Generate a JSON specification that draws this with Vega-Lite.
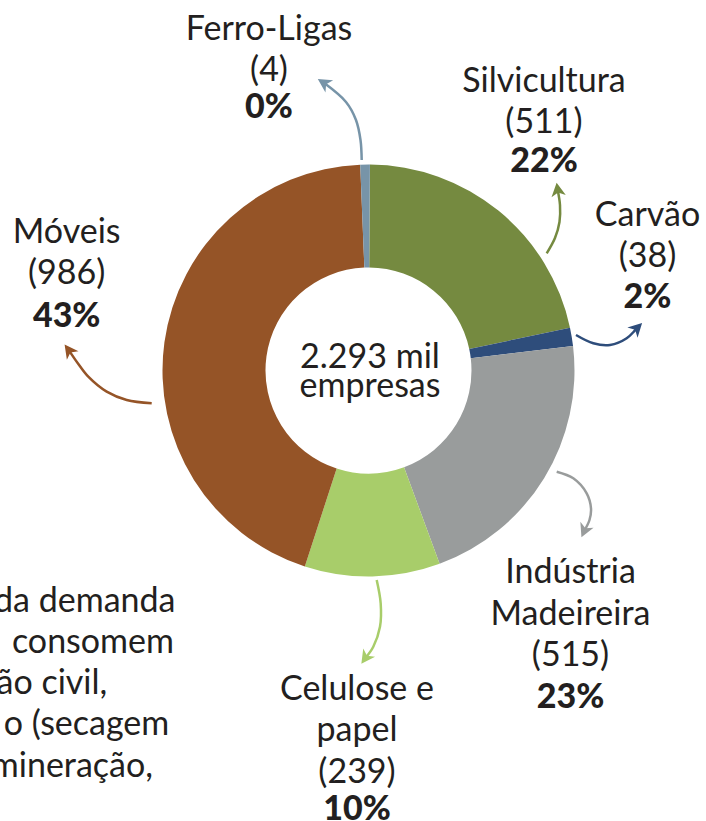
{
  "$schema": "https://vega.github.io/schema/vega-lite/v6.json",
  "autosize": {"type": "none"},
  "width": 706,
  "height": 821,
  "padding": 0,
  "background": "white",
  "config": {"view": {"stroke": null}},
  "datasets": {
    "setores": [
      {"ordem": 1, "setor": "Silvicultura", "empresas": 511, "pct": "22%", "graus": 77.6, "rotulo": "Silvicultura\n(511)", "lx": 85.19, "ly": 135.34, "py": 96.51},
      {"ordem": 2, "setor": "Carvão", "empresas": 38, "pct": "2%", "graus": 5.2, "rotulo": "Carvão\n(38)", "lx": 135.44, "ly": 70.15, "py": 30.34},
      {"ordem": 3, "setor": "Indústria Madeireira", "empresas": 515, "pct": "23%", "graus": 76.6, "rotulo": "Indústria\nMadeireira\n(515)", "lx": 98.06, "ly": -103.3, "py": -163.98},
      {"ordem": 4, "setor": "Celulose e papel", "empresas": 239, "pct": "10%", "graus": 38.2, "rotulo": "Celulose e\npapel\n(239)", "lx": -5.58, "ly": -159.95, "py": -218.2},
      {"ordem": 5, "setor": "Móveis", "empresas": 986, "pct": "43%", "graus": 159.7, "rotulo": "Móveis\n(986)", "lx": -146.5, "ly": 62.04, "py": 21.26},
      {"ordem": 6, "setor": "Ferro-Ligas", "empresas": 4, "pct": "0%", "graus": 2.7, "rotulo": "Ferro-Ligas\n(4)", "lx": -48.3, "ly": 160.44, "py": 122.33}
    ],
    "setas": [
      {"setor": "Ferro-Ligas", "i": 1, "u": -3.3, "v": 102.19},
      {"setor": "Ferro-Ligas", "i": 2, "u": -3.88, "v": 111.89},
      {"setor": "Ferro-Ligas", "i": 3, "u": -6.07, "v": 121.6},
      {"setor": "Ferro-Ligas", "i": 4, "u": -10.92, "v": 130.34},
      {"setor": "Ferro-Ligas", "i": 5, "u": -21.5, "v": 139.52},
      {"setor": "Silvicultura", "i": 1, "u": 86.51, "v": 56.89},
      {"setor": "Silvicultura", "i": 2, "u": 90.53, "v": 64.32},
      {"setor": "Silvicultura", "i": 3, "u": 92.72, "v": 72.09},
      {"setor": "Silvicultura", "i": 4, "u": 92.96, "v": 80.34},
      {"setor": "Silvicultura", "i": 5, "u": 91.87, "v": 87.52},
      {"setor": "Carvão", "i": 1, "u": 100.73, "v": 17.23},
      {"setor": "Carvão", "i": 2, "u": 109.13, "v": 13.2},
      {"setor": "Carvão", "i": 3, "u": 117.23, "v": 12.38},
      {"setor": "Carvão", "i": 4, "u": 125.34, "v": 15.63},
      {"setor": "Carvão", "i": 5, "u": 130.22, "v": 20.51},
      {"setor": "Indústria Madeireira", "i": 1, "u": 91.36, "v": -49.13},
      {"setor": "Indústria Madeireira", "i": 2, "u": 99.42, "v": -52.33},
      {"setor": "Indústria Madeireira", "i": 3, "u": 105.92, "v": -59.61},
      {"setor": "Indústria Madeireira", "i": 4, "u": 108.01, "v": -66.89},
      {"setor": "Indústria Madeireira", "i": 5, "u": 107.28, "v": -72.57},
      {"setor": "Indústria Madeireira", "i": 6, "u": 104.86, "v": -77.57},
      {"setor": "Celulose e papel", "i": 1, "u": 3.98, "v": -101.7},
      {"setor": "Celulose e papel", "i": 2, "u": 5.92, "v": -113.01},
      {"setor": "Celulose e papel", "i": 3, "u": 5.58, "v": -124.37},
      {"setor": "Celulose e papel", "i": 4, "u": 2.33, "v": -134.08},
      {"setor": "Celulose e papel", "i": 5, "u": -1.36, "v": -139.37},
      {"setor": "Móveis", "i": 1, "u": -105.24, "v": -15.92},
      {"setor": "Móveis", "i": 2, "u": -117.38, "v": -14.32},
      {"setor": "Móveis", "i": 3, "u": -127.09, "v": -10.29},
      {"setor": "Móveis", "i": 4, "u": -136.02, "v": -3.01},
      {"setor": "Móveis", "i": 5, "u": -141.02, "v": 3.4},
      {"setor": "Móveis", "i": 6, "u": -145.34, "v": 9.66}
    ],
    "pontas": [
      {"setor": "Ferro-Ligas", "u": -21.5, "v": 139.52, "ang": 302.4},
      {"setor": "Silvicultura", "u": 91.87, "v": 87.52, "ang": 351.4},
      {"setor": "Carvão", "u": 130.22, "v": 20.51, "ang": 45},
      {"setor": "Indústria Madeireira", "u": 104.86, "v": -77.57, "ang": 203.8},
      {"setor": "Celulose e papel", "u": -1.36, "v": -139.37, "ang": 214.9},
      {"setor": "Móveis", "u": -145.34, "v": 9.66, "ang": 323.7}
    ],
    "nota": [
      {"t": "da demanda", "u": -93.69, "v": -117.09},
      {"t": "consomem", "u": -94.42, "v": -137.28},
      {"t": "ão civil,", "u": -126.8, "v": -157.04},
      {"t": "o (secagem", "u": -96.7, "v": -176.94},
      {"t": "mineração,", "u": -104.61, "v": -197.19}
    ]
  },
  "layer": [
    {
      "data": {"name": "setores"},
      "mark": {"type": "arc", "outerRadius": 206, "innerRadius": 103, "stroke": null},
      "encoding": {
        "x": {"datum": 0, "type": "quantitative", "scale": {"domain": [-178.88, 163.84], "nice": false, "zero": false}, "axis": null},
        "y": {"datum": 0, "type": "quantitative", "scale": {"domain": [-218.69, 179.85], "nice": false, "zero": false}, "axis": null},
        "theta": {"field": "graus", "type": "quantitative", "stack": true, "scale": {"range": [0.006981, 6.290167]}},
        "order": {"field": "ordem", "type": "quantitative"},
        "color": {
          "field": "setor", "type": "nominal", "legend": null,
          "scale": {
            "domain": ["Silvicultura", "Carvão", "Indústria Madeireira", "Celulose e papel", "Móveis", "Ferro-Ligas"],
            "range": ["#758A40", "#2E4D7B", "#999C9C", "#A8CD6A", "#955427", "#7794A8"]
          }
        }
      }
    },
    {
      "data": {"name": "setas"},
      "mark": {"type": "line", "interpolate": "catmull-rom", "strokeWidth": 2.5},
      "encoding": {
        "x": {"field": "u", "type": "quantitative", "scale": {"domain": [-178.88, 163.84], "nice": false, "zero": false}, "axis": null},
        "y": {"field": "v", "type": "quantitative", "scale": {"domain": [-218.69, 179.85], "nice": false, "zero": false}, "axis": null},
        "order": {"field": "i", "type": "quantitative"},
        "color": {"field": "setor", "type": "nominal", "legend": null}
      }
    },
    {
      "data": {"name": "pontas"},
      "mark": {"type": "point", "shape": "M0,-1L0.95,0.8L0,0.3L-0.95,0.8Z", "filled": true, "size": 230, "opacity": 1, "strokeWidth": 0},
      "encoding": {
        "x": {"field": "u", "type": "quantitative", "scale": {"domain": [-178.88, 163.84], "nice": false, "zero": false}, "axis": null},
        "y": {"field": "v", "type": "quantitative", "scale": {"domain": [-218.69, 179.85], "nice": false, "zero": false}, "axis": null},
        "angle": {"field": "ang", "type": "quantitative", "scale": null},
        "color": {"field": "setor", "type": "nominal", "legend": null}
      }
    },
    {
      "data": {"name": "setores"},
      "mark": {"type": "text", "font": "Lato", "fontSize": 34, "align": "center", "baseline": "alphabetic", "lineBreak": "\n", "lineHeight": 41.5, "color": "#231F20"},
      "encoding": {
        "x": {"field": "lx", "type": "quantitative", "scale": {"domain": [-178.88, 163.84], "nice": false, "zero": false}, "axis": null},
        "y": {"field": "ly", "type": "quantitative", "scale": {"domain": [-218.69, 179.85], "nice": false, "zero": false}, "axis": null},
        "text": {"field": "rotulo", "type": "nominal"}
      }
    },
    {
      "data": {"name": "setores"},
      "mark": {"type": "text", "font": "Lato", "fontSize": 34, "fontWeight": 900, "align": "center", "baseline": "alphabetic", "color": "#231F20"},
      "encoding": {
        "x": {"field": "lx", "type": "quantitative", "scale": {"domain": [-178.88, 163.84], "nice": false, "zero": false}, "axis": null},
        "y": {"field": "py", "type": "quantitative", "scale": {"domain": [-218.69, 179.85], "nice": false, "zero": false}, "axis": null},
        "text": {"field": "pct", "type": "nominal"}
      }
    },
    {
      "data": {"values": [{"t": "2.293 mil\nempresas"}]},
      "mark": {"type": "text", "font": "Lato", "fontSize": 34, "align": "center", "baseline": "alphabetic", "lineBreak": "\n", "lineHeight": 28.5, "color": "#231F20"},
      "encoding": {
        "x": {"datum": 0.73, "type": "quantitative", "scale": {"domain": [-178.88, 163.84], "nice": false, "zero": false}, "axis": null},
        "y": {"datum": 1.07, "type": "quantitative", "scale": {"domain": [-218.69, 179.85], "nice": false, "zero": false}, "axis": null},
        "text": {"field": "t", "type": "nominal"}
      }
    },
    {
      "data": {"name": "nota"},
      "mark": {"type": "text", "font": "Lato", "fontSize": 34, "align": "right", "baseline": "alphabetic", "color": "#231F20"},
      "encoding": {
        "x": {"field": "u", "type": "quantitative", "scale": {"domain": [-178.88, 163.84], "nice": false, "zero": false}, "axis": null},
        "y": {"field": "v", "type": "quantitative", "scale": {"domain": [-218.69, 179.85], "nice": false, "zero": false}, "axis": null},
        "text": {"field": "t", "type": "nominal"}
      }
    }
  ]
}
